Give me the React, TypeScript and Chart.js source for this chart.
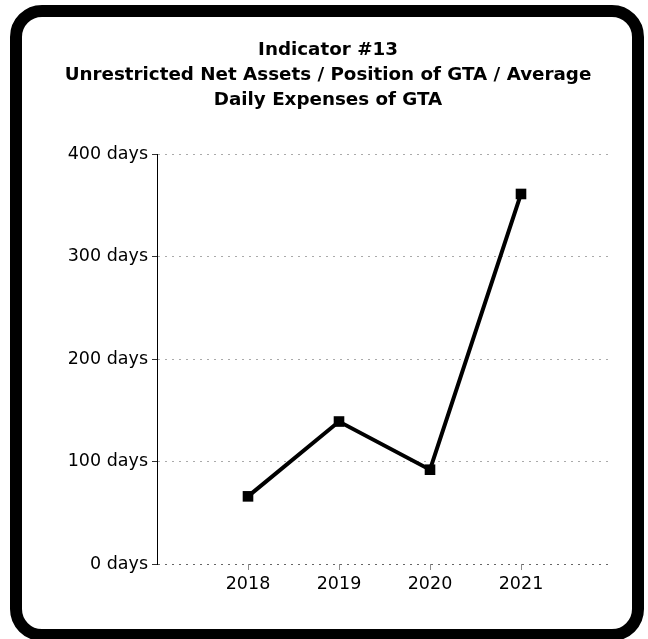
import React, { useEffect, useRef } from "react";
import { Chart, registerables } from "chart.js";

Chart.register(...registerables);

const titleLines = [
  "Indicator #13",
  "Unrestricted Net Assets / Position of GTA / Average",
  "Daily Expenses of GTA",
];
const years = [2018, 2019, 2020, 2021];
const daysValues = [66, 139, 92, 361];
const yTicks = [0, 100, 200, 300, 400];

const FONT = "'DejaVu Sans', Verdana, sans-serif";

export default function App() {
  const canvasRef = useRef<HTMLCanvasElement | null>(null);

  useEffect(() => {
    const canvas = canvasRef.current;
    if (!canvas) return;
    const chart = new Chart(canvas, {
      type: "line",
      data: {
        datasets: [
          {
            label: "Days",
            data: years.map((y, i) => ({ x: y, y: daysValues[i] })),
            borderColor: "#000",
            backgroundColor: "#000",
            borderWidth: 4,
            pointStyle: "rect",
            pointRadius: 7.5,
            pointBackgroundColor: "#000",
            pointBorderColor: "#000",
            pointBorderWidth: 0,
            tension: 0,
          },
        ],
      },
      options: {
        animation: false,
        responsive: false,
        devicePixelRatio: 1,
        layout: { padding: { left: 44, right: 36, top: 0, bottom: 0 } },
        plugins: {
          legend: { display: false },
          tooltip: { enabled: false },
          title: {
            display: true,
            text: titleLines,
            color: "#000",
            font: { family: FONT, size: 18.3, weight: "bold", lineHeight: 25 / 18.3 },
            padding: { top: 38, bottom: 41 },
          },
        },
        scales: {
          x: {
            type: "linear",
            min: 2017,
            max: 2022,
            afterBuildTicks: (scale: any) => {
              scale.ticks = [2017, ...years, 2022].map((v) => ({ value: v }));
            },
            ticks: {
              autoSkip: false,
              color: "#000",
              font: { family: FONT, size: 17.5 },
              padding: 4,
              callback: (v: any) => (years.includes(Number(v)) ? String(v) : ""),
            },
            grid: {
              drawOnChartArea: false,
              drawTicks: true,
              tickLength: 6,
              tickColor: (ctx: any) =>
                years.includes(ctx.tick?.value) ? "rgba(0,0,0,0.45)" : "rgba(0,0,0,0)",
            },
            border: { display: false },
            afterFit: (scale: any) => {
              scale.height = 75;
            },
          },
          y: {
            min: 0,
            max: 400,
            afterBuildTicks: (scale: any) => {
              scale.ticks = yTicks.map((v) => ({ value: v }));
            },
            ticks: {
              color: "#000",
              font: { family: FONT, size: 17.5 },
              padding: 4,
              callback: (v: any) => `${v} days`,
            },
            grid: {
              color: (ctx: any) => (ctx.tick?.value === 0 ? "#666" : "#aaa"),
              lineWidth: 1,
              tickLength: 5,
              tickColor: "#333",
              tickBorderDash: [],
            },
            border: {
              display: true,
              color: "#000",
              width: 1,
              dash: [2, 5],
            },
            afterFit: (scale: any) => {
              scale.width = 113;
            },
          },
        },
      },
    });
    return () => chart.destroy();
  }, []);

  return (
    <div
      style={{
        position: "fixed",
        left: 0,
        top: 0,
        width: 648,
        height: 639,
        overflow: "hidden",
        background: "#fff",
      }}
    >
      <div
        style={{
          position: "absolute",
          left: 10,
          top: 5,
          width: 634,
          height: 636,
          boxSizing: "border-box",
          border: "12px solid #000",
          borderRadius: 32,
        }}
      />
      <canvas
        ref={canvasRef}
        width={648}
        height={639}
        style={{ position: "absolute", left: 0, top: 0, width: 648, height: 639 }}
      />
    </div>
  );
}
